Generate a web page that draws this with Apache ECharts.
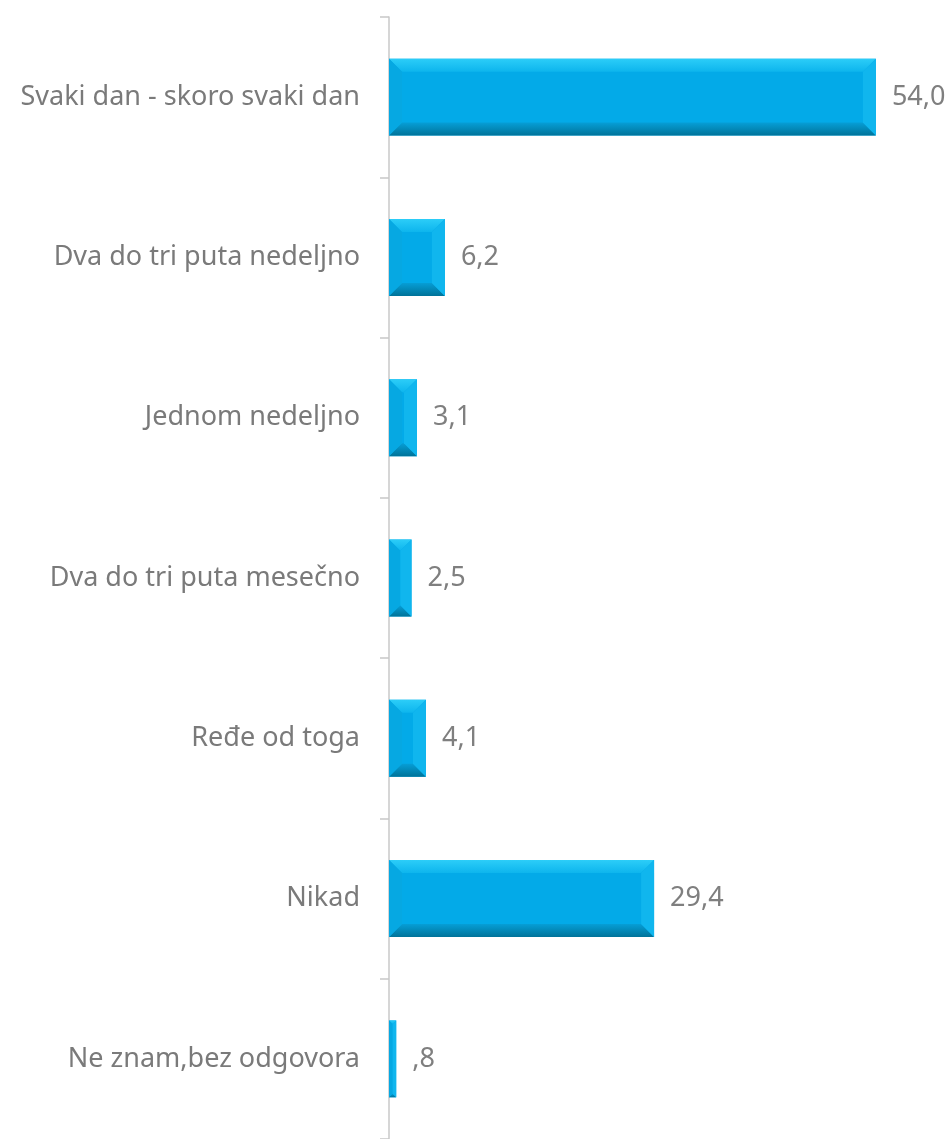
<!DOCTYPE html>
<html>
<head>
<meta charset="utf-8">
<script src="https://cdn.jsdelivr.net/npm/echarts@6/dist/echarts.min.js"></script>
<style>
  html, body { margin: 0; padding: 0; background: #fff; }
  #main { width: 951px; height: 1139px; }
</style>
</head>
<body>
<div id="main"></div>
<script>
// kategorije odgovora, odozgo nadole
var categories = [
    'Svaki dan - skoro svaki dan',
    'Dva do tri puta nedeljno',
    'Jednom nedeljno',
    'Dva do tri puta mesečno',
    'Ređe od toga',
    'Nikad',
    'Ne znam,bez odgovora'
];
// procenti
var values = [54.0, 6.2, 3.1, 2.5, 4.1, 29.4, 0.8];

function fmtValue(v) {
    // 54.0 -> "54,0", 0.8 -> ",8"
    var s = v.toFixed(1).replace('.', ',');
    if (s.indexOf('0,') === 0) s = s.substring(1);
    return s;
}

var myChart = echarts.init(document.getElementById('main'));

var barData = [];
for (let i = 0; i < values.length; i++) {
    barData.push([values[i], i]);
}

// ivice (bevel) preko stubica
function renderBevel(params, api) {
    var v = api.value(0);
    var idx = api.value(1);
    var p0 = api.coord([0, idx]);
    var p1 = api.coord([v, idx]);
    var h = api.size([0, 1])[1] * 0.48;
    var x0 = p0[0], x1 = p1[0];
    var yT = p0[1] - h / 2, yB = p0[1] + h / 2;
    var b = Math.min(13, (x1 - x0) / 2, h / 2);
    return {
        type: 'group',
        children: [{
            type: 'polygon',
            shape: { points: [[x0, yT], [x1, yT], [x1 - b, yT + b], [x0 + b, yT + b]] },
            style: { fill: new echarts.graphic.LinearGradient(0, 0, 0, 1, [
                { offset: 0, color: '#2ccdf8' }, { offset: 1, color: '#0db5ed' }]) }
        }, {
            type: 'polygon',
            shape: { points: [[x0, yB], [x1, yB], [x1 - b, yB - b], [x0 + b, yB - b]] },
            style: { fill: new echarts.graphic.LinearGradient(0, 0, 0, 1, [
                { offset: 0, color: '#069ed6' }, { offset: 1, color: '#007399' }]) }
        }, {
            type: 'polygon',
            shape: { points: [[x0, yT], [x0 + b, yT + b], [x0 + b, yB - b], [x0, yB]] },
            style: { fill: '#06a8e2' }
        }, {
            type: 'polygon',
            shape: { points: [[x1, yT], [x1 - b, yT + b], [x1 - b, yB - b], [x1, yB]] },
            style: { fill: '#10b6ee' }
        }]
    };
}

var option = {
    backgroundColor: '#fff',
    animation: false,
    grid: {
        left: 389,
        top: 17,
        width: 541,
        height: 1128
    },
    xAxis: {
        type: 'value',
        min: 0,
        max: 60,
        show: false
    },
    yAxis: {
        type: 'category',
        data: categories,
        inverse: true,
        axisLine: { show: true, lineStyle: { color: '#c8c8c8', width: 1.5 } },
        axisTick: { show: true, length: 9, lineStyle: { color: '#c8c8c8', width: 1.5 } },
        axisLabel: {
            margin: 29,
            color: '#7a7a7a',
            fontSize: 27,
            fontFamily: 'Noto Sans'
        },
        splitLine: { show: false }
    },
    series: [{
        type: 'bar',
        data: barData,
        encode: { x: 0, y: 1 },
        barWidth: '48%',
        itemStyle: { color: '#03aae8' },
        label: {
            show: true,
            position: 'right',
            distance: 16,
            color: '#7f7f7f',
            fontSize: 27,
            fontFamily: 'Noto Sans',
            formatter: function (p) { return fmtValue(p.value[0]); }
        }
    }, {
        type: 'custom',
        data: barData,
        encode: { x: 0, y: 1 },
        renderItem: renderBevel,
        silent: true,
        z: 3
    }]
};

myChart.setOption(option);
</script>
</body>
</html>
